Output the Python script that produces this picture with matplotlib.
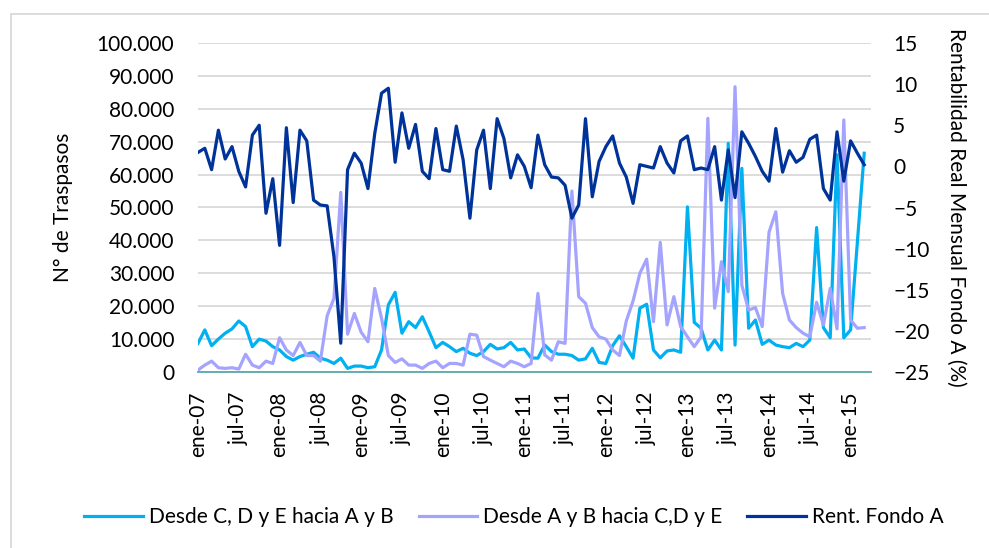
import matplotlib
matplotlib.use("Agg")
from matplotlib import pyplot as plt
from matplotlib.ticker import FuncFormatter
from matplotlib.patches import Rectangle

plt.rcParams['font.family'] = ['Lato', 'DejaVu Sans']

# meses ene-07 .. mar-15
meses = ['ene', 'feb', 'mar', 'abr', 'may', 'jun', 'jul', 'ago', 'sep', 'oct', 'nov', 'dic']
fechas = [f"{meses[i % 12]}-{7 + i // 12:02d}" for i in range(99)]

# miles de traspasos, desde C, D y E hacia A y B
desde_cde = [8.7, 12.8, 8.0, 10.0, 11.8, 13.1, 15.5, 13.8, 7.7, 10.0, 9.4, 7.7,
             6.7, 4.7, 3.6, 4.7, 5.4, 6.0, 4.2, 3.6, 2.6, 4.2, 1.1, 1.8,
             1.8, 1.3, 1.6, 6.7, 20.4, 24.2, 11.8, 15.3, 13.5, 16.8, 12.2, 7.4,
             9.0, 7.7, 6.2, 7.2, 5.7, 5.0, 6.2, 8.4, 7.0, 7.4, 9.0, 6.7,
             7.0, 4.3, 4.2, 8.2, 6.2, 5.4, 5.4, 5.0, 3.6, 4.0, 7.2, 2.9,
             2.6, 8.0, 11.0, 7.7, 4.2, 19.4, 20.6, 6.7, 4.3, 6.4, 6.7, 6.0,
             50.2, 15.1, 13.3, 6.7, 9.7, 6.7, 69.5, 8.2, 61.9, 13.3, 15.8, 8.4,
             9.7, 8.2, 7.7, 7.4, 8.7, 7.7, 9.7, 43.9, 13.5, 10.4, 66.0, 10.4,
             12.8, 39.6, 66.5]

# miles de traspasos, desde A y B hacia C, D y E
desde_ab = [0.6, 2.1, 3.3, 1.3, 1.1, 1.3, 0.9, 5.4, 2.1, 1.3, 3.3, 2.6,
            10.4, 6.7, 5.0, 9.0, 5.0, 5.0, 3.3, 17.1, 22.4, 54.6, 11.5, 17.8,
            12.1, 9.2, 25.4, 16.3, 5.0, 2.9, 4.0, 2.1, 2.1, 1.1, 2.6, 3.3,
            1.3, 2.6, 2.6, 2.1, 11.5, 11.2, 4.7, 3.6, 2.6, 1.6, 3.3, 2.6,
            1.6, 2.6, 23.9, 5.2, 3.6, 9.2, 8.7, 55.0, 22.9, 20.9, 13.5, 10.7,
            10.0, 6.7, 5.0, 15.5, 21.6, 30.0, 34.3, 15.3, 39.4, 14.3, 22.9, 13.8,
            10.7, 7.7, 10.7, 77.1, 19.4, 33.5, 24.4, 86.7, 26.4, 18.8, 19.6, 13.8,
            42.5, 48.7, 23.9, 15.8, 13.5, 11.8, 10.7, 21.2, 14.3, 25.4, 13.1, 76.6,
            15.8, 13.3, 13.5]

# rentabilidad real mensual fondo A (%)
rent_a = [1.7, 2.2, -0.4, 4.4, 0.9, 2.4, -0.6, -2.5, 3.8, 5.0, -5.7, -1.5,
          -9.6, 4.7, -4.4, 4.4, 3.1, -4.1, -4.7, -4.8, -11.0, -21.5, -0.4, 1.6,
          0.4, -2.7, 4.0, 8.9, 9.5, 0.5, 6.5, 2.2, 5.1, -0.6, -1.5, 4.6,
          -0.4, -0.6, 4.9, 0.8, -6.3, 2.0, 4.4, -2.7, 5.8, 3.4, -1.4, 1.4,
          0.0, -2.6, 3.8, 0.2, -1.3, -1.4, -2.3, -6.3, -4.7, 5.8, -3.7, 0.6,
          2.4, 3.7, 0.4, -1.3, -4.5, 0.2, 0.0, -0.2, 2.4, 0.4, -0.8, 3.1,
          3.7, -0.4, -0.2, -0.4, 2.4, -4.1, 2.0, -3.8, 4.2, 2.8, 1.2, -0.6,
          -1.8, 4.6, -0.7, 1.9, 0.5, 1.1, 3.3, 3.8, -2.7, -4.1, 4.2, -1.8,
          3.1, 1.6, 0.2]

x = list(range(len(fechas)))
cde = [v * 1000 for v in desde_cde]
ab = [v * 1000 for v in desde_ab]

fig = plt.figure(figsize=(9.89, 5.48), dpi=100)
ax = fig.add_axes([198 / 989, 1 - 372 / 548, (871 - 198) / 989, (372 - 43) / 548])
ax2 = ax.twinx()

l1, = ax.plot(x, cde, color='#00B0F0', lw=2.3, label='Desde C, D y E hacia A y B')
l2, = ax.plot(x, ab, color='#A4A4FF', lw=2.3, label='Desde A y B hacia C,D y E')
l3, = ax2.plot(x, rent_a, color='#003399', lw=2.3, label='Rent. Fondo A')

ax.set_xlim(0, 99)
ax.set_ylim(0, 100000)
ax.set_yticks(range(0, 100001, 10000))
ax.yaxis.set_major_formatter(FuncFormatter(lambda v, p: f"{int(v):,}".replace(',', '.')))
ax.grid(True, axis='y', color='#D9D9D9', lw=1.3)
ax.set_axisbelow(True)
ax.set_xticks(x[::6])
ax.set_xticklabels(fechas[::6], rotation=90)

ax2.set_ylim(-25, 15)
ax2.set_yticks(range(-25, 16, 5))

for a in (ax, ax2):
    for s in a.spines.values():
        s.set_visible(False)
    a.tick_params(length=0, labelsize=15, colors='#000000')
ax.spines['bottom'].set_visible(True)
ax.spines['bottom'].set_color('#5BA8A8')
ax.spines['bottom'].set_linewidth(1.3)
ax.tick_params(axis='x', pad=14)
ax.tick_params(axis='y', pad=17)
ax2.tick_params(axis='y', pad=16)

ax.set_ylabel('N° de Traspasos', fontsize=15, labelpad=17)
ax2.set_ylabel('Rentabilidad Real Mensual Fondo A (%)', fontsize=15, rotation=-90, labelpad=26)

fig.legend(handles=[l1, l2, l3], loc='center', bbox_to_anchor=(514 / 989, 1 - 517 / 548),
           ncol=3, frameon=False, fontsize=15, handlelength=2.8, columnspacing=1.2,
           handletextpad=0.3)

fig.patches.append(Rectangle((11 / 989, -0.05), 1.2, 1 - 14 / 548 + 0.05,
                             transform=fig.transFigure, fill=False,
                             edgecolor='#D9D9D9', lw=1.3))

fig.savefig('out.png', dpi=100, facecolor='white')
